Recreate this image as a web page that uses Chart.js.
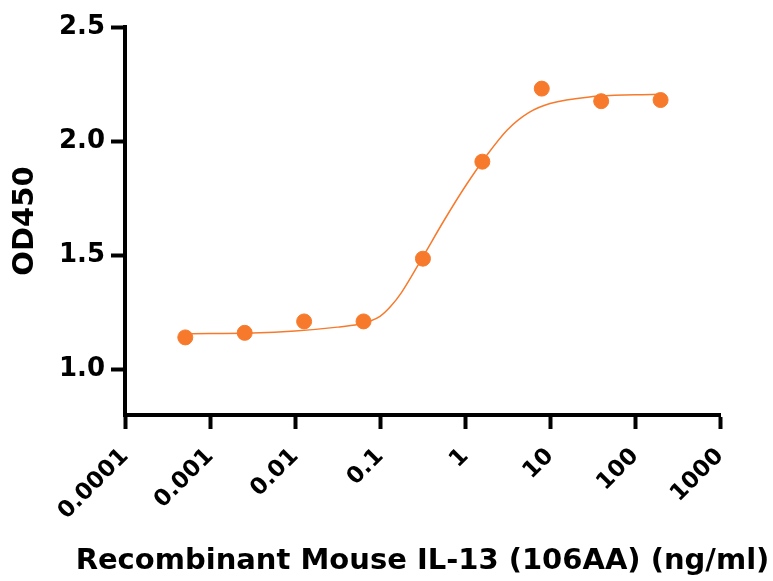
<!DOCTYPE html>
<html>
<head>
<meta charset="utf-8">
<script src="https://cdn.jsdelivr.net/npm/chart.js@4"></script>
<style>
  html, body { margin: 0; padding: 0; background: #fff; }
  #wrap { width: 773px; height: 581px; }
</style>
</head>
<body>
<div id="wrap"><canvas id="myChart" width="773" height="581"></canvas></div>
<script>
// measured points (ng/ml -> OD450)
var concentrations = [0.000512, 0.00256, 0.0128, 0.064, 0.32, 1.6, 8, 40, 200];
var od450 = [1.14, 1.16, 1.21, 1.21, 1.485, 1.91, 2.23, 2.175, 2.18];

// fitted curve
var fitX = [0.00049, 0.001, 0.00316, 0.01, 0.0316, 0.0562, 0.075, 0.1, 0.133, 0.178, 0.316, 0.562, 1, 1.78, 3.16, 5.62, 10, 31.6, 100, 200];
var fitY = [1.156, 1.157, 1.159, 1.168, 1.185, 1.198, 1.21, 1.232, 1.275, 1.335, 1.49, 1.65, 1.80, 1.935, 2.05, 2.125, 2.165, 2.195, 2.203, 2.205];

var xTickLabels = ['0.0001', '0.001', '0.01', '0.1', '1', '10', '100', '1000'];
var yTicks = [1.0, 1.5, 2.0, 2.5];
var xTitle = 'Recombinant Mouse IL-13 (106AA) (ng/ml)';

var orange = '#F77A2C';
var fontFamily = '"DejaVu Sans", sans-serif';

// x title drawn by hand so it isn't squeezed to the axis width
var xTitlePlugin = {
    id: 'xTitle',
    afterDraw: function (chart) {
        var a = chart.chartArea;
        var c = chart.ctx;
        c.save();
        c.font = 'bold 29px ' + fontFamily;
        c.fillStyle = '#000';
        c.textAlign = 'center';
        c.textBaseline = 'middle';
        c.fillText(xTitle, (a.left + a.right) / 2, chart.height - 20);
        c.restore();
    }
};

var ctx = document.getElementById('myChart').getContext('2d');
var myChart = new Chart(ctx, {
    type: 'scatter',
    data: {
        datasets: [{
            data: concentrations.map(function (c, i) { return { x: c, y: od450[i] }; }),
            backgroundColor: orange,
            borderColor: orange,
            pointRadius: 7.5,
            pointBorderWidth: 1,
            showLine: false
        }, {
            data: fitX.map(function (c, i) { return { x: c, y: fitY[i] }; }),
            borderColor: orange,
            borderWidth: 1.5,
            pointRadius: 0,
            showLine: true,
            cubicInterpolationMode: 'monotone'
        }]
    },
    plugins: [xTitlePlugin],
    options: {
        responsive: false,
        animation: false,
        layout: { padding: { left: 0, right: 53, top: 27, bottom: 0 } },
        plugins: {
            legend: { display: false },
            tooltip: { enabled: false }
        },
        scales: {
            x: {
                type: 'logarithmic',
                min: 0.0001,
                max: 1000,
                afterBuildTicks: function (scale) {
                    scale.ticks = xTickLabels.map(function (l) { return { value: parseFloat(l) }; });
                },
                afterFit: function (scale) { scale.height = 166; },
                ticks: {
                    autoSkip: false,
                    minRotation: 45,
                    maxRotation: 45,
                    padding: 14,
                    color: '#000',
                    font: { family: fontFamily, size: 23, weight: 'bold' },
                    callback: function (value, index) { return xTickLabels[index]; }
                },
                grid: {
                    drawOnChartArea: false,
                    drawTicks: true,
                    tickLength: 14,
                    tickWidth: 4,
                    tickColor: '#000'
                },
                border: { display: true, width: 4, color: '#000' }
            },
            y: {
                min: 0.8,
                max: 2.5,
                afterBuildTicks: function (scale) {
                    scale.ticks = yTicks.map(function (v) { return { value: v }; });
                },
                afterFit: function (scale) { scale.width = 125; },
                ticks: {
                    padding: 6,
                    color: '#000',
                    font: { family: fontFamily, size: 26, weight: 'bold' },
                    callback: function (value) { return value.toFixed(1); }
                },
                grid: {
                    drawOnChartArea: false,
                    drawTicks: true,
                    tickLength: 14,
                    tickWidth: 4,
                    tickColor: '#000'
                },
                border: { display: true, width: 4, color: '#000' },
                title: {
                    display: true,
                    text: 'OD450',
                    color: '#000',
                    padding: { top: 8, bottom: 0 },
                    font: { family: fontFamily, size: 29, weight: 'bold' }
                }
            }
        }
    }
});
</script>
</body>
</html>
